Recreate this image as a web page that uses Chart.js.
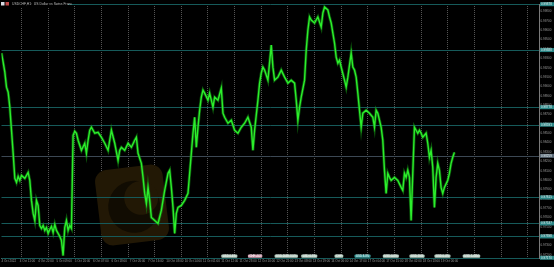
<!DOCTYPE html>
<html>
<head>
<meta charset="utf-8">
<script src="https://cdn.jsdelivr.net/npm/chart.js@4/dist/chart.umd.min.js"></script>
<style>
  html, body { margin: 0; padding: 0; background: #000; }
  #wrap { width: 554px; height: 267px; }
</style>
</head>
<body>
<div id="wrap"><canvas id="priceChart" width="554" height="267"></canvas></div>
<script>
const chartTitle = 'USDCHF,H1:  US Dollar vs Swiss Franc';

// bar index (hours on the chart) and close price
const bars = [
  0, 1, 2, 3, 4, 5, 6, 7, 8, 9, 10, 11, 12, 14, 16, 17, 18, 19, 20, 21,
  22, 23, 24, 25, 26, 27, 28, 29, 30, 31, 32, 33, 34, 35, 36, 37, 38, 39, 40, 41,
  42, 43, 44, 45, 46, 48, 50, 51, 52, 53, 54, 56, 58, 60, 62, 64, 66, 68, 70, 71,
  72, 74, 76, 78, 80, 81, 82, 84, 85, 86, 87, 88, 89, 90, 92, 94, 96, 98, 100, 101,
  102, 103, 104, 105, 106, 108, 110, 112, 113, 114, 115, 116, 117, 118, 119, 120, 121, 122, 124, 125,
  126, 127, 128, 130, 132, 133, 134, 136, 138, 140, 142, 144, 146, 148, 150, 151, 152, 154, 155, 156,
  157, 158, 160, 162, 163, 164, 166, 168, 170, 172, 174, 176, 177, 178, 179, 180, 182, 183, 184, 185,
  186, 188, 190, 192, 193, 194, 196, 197, 198, 200, 201, 202, 203, 204, 206, 207, 208, 210, 211, 212,
  213, 214, 215, 216, 217, 219, 221, 223, 224, 225, 226, 227, 228, 229, 230, 231, 232, 233, 234, 236,
  238, 240, 241, 242, 243, 244, 245, 246, 247, 248, 249, 250, 251, 252, 253, 255, 256, 257, 258, 259,
  260, 261, 262, 263, 264, 265, 266, 268, 269, 270, 271, 272
];
const closes = [
  0.99356, 0.99259, 0.99152, 0.98992, 0.98938, 0.98778, 0.98532, 0.98286, 0.98018, 0.97975,
  0.98040, 0.97997, 0.98050, 0.98018, 0.98082, 0.97997, 0.97783, 0.97644, 0.97569, 0.97783,
  0.97729, 0.97515, 0.97483, 0.97515, 0.97462, 0.97494, 0.97430, 0.97473, 0.97505, 0.97440,
  0.97526, 0.97462, 0.97430, 0.97398, 0.97355, 0.97194, 0.97494, 0.97569, 0.97462, 0.97515,
  0.97483, 0.98478, 0.98521, 0.98500, 0.98425, 0.98318, 0.98393, 0.98286, 0.98425, 0.98532,
  0.98564, 0.98500, 0.98510, 0.98457, 0.98393, 0.98318, 0.98532, 0.98393, 0.98211, 0.98318,
  0.98350, 0.98318, 0.98393, 0.98350, 0.98425, 0.98457, 0.98286, 0.98179, 0.98029, 0.97858,
  0.97751, 0.97922, 0.97783, 0.97601, 0.97569, 0.97537, 0.97676, 0.97890, 0.98072, 0.98104,
  0.97922, 0.97708, 0.97430, 0.97644, 0.97708, 0.97729, 0.97783, 0.97858, 0.98072, 0.98286,
  0.98500, 0.98671, 0.98350, 0.98564, 0.98746, 0.98885, 0.98960, 0.98928, 0.98853, 0.98928,
  0.98853, 0.98778, 0.98885, 0.98853, 0.98981, 0.98714, 0.98671, 0.98607, 0.98639, 0.98532,
  0.98500, 0.98564, 0.98607, 0.98671, 0.98564, 0.98318, 0.98532, 0.98853, 0.99035, 0.99142,
  0.99206, 0.99174, 0.99067, 0.99441, 0.99206, 0.99067, 0.99099, 0.99174, 0.99099, 0.99035,
  0.99067, 0.99035, 0.98853, 0.98639, 0.98778, 0.98885, 0.99067, 0.99388, 0.99602, 0.99741,
  0.99709, 0.99677, 0.99741, 0.99634, 0.99784, 0.99848, 0.99816, 0.99741, 0.99677, 0.99463,
  0.99313, 0.99249, 0.99281, 0.99206, 0.99067, 0.98992, 0.99099, 0.99356, 0.99206, 0.99174,
  0.99099, 0.98928, 0.98746, 0.98564, 0.98714, 0.98746, 0.98714, 0.98671, 0.98564, 0.98746,
  0.98714, 0.98639, 0.98564, 0.98425, 0.98104, 0.97858, 0.98072, 0.98029, 0.97997, 0.98029,
  0.97997, 0.97922, 0.97890, 0.98072, 0.98029, 0.98104, 0.98029, 0.97569, 0.98072, 0.98564,
  0.98532, 0.98500, 0.98532, 0.98500, 0.98457, 0.98500, 0.98393, 0.98243, 0.98318, 0.98136,
  0.97708, 0.98029, 0.98179, 0.98104, 0.97922, 0.97858, 0.97922, 0.97997, 0.98072, 0.98179,
  0.98243, 0.98296
];

// time axis labels
const labelBars = [0, 11, 22, 33, 44, 55, 66, 77, 88, 99, 110, 121, 132, 143, 154, 165, 176, 187, 198, 209, 220, 231, 242, 253, 264];
const timeLabels = [
  '4 Oct 2022', '4 Oct 11:00', '4 Oct 22:00', '5 Oct 09:00', '5 Oct 20:00', '6 Oct 07:00',
  '6 Oct 18:00', '7 Oct 05:00', '7 Oct 16:00', '10 Oct 03:00', '10 Oct 14:00', '11 Oct 01:00',
  '11 Oct 12:00', '11 Oct 23:00', '12 Oct 10:00', '12 Oct 21:00', '13 Oct 08:00', '13 Oct 19:00',
  '14 Oct 06:00', '14 Oct 17:00', '17 Oct 04:00', '17 Oct 15:00', '18 Oct 02:00', '18 Oct 13:00',
  '19 Oct 00:00'
];
const gridBars = [12, 28, 44, 60, 76, 92, 108, 124, 140, 156, 172, 188, 204, 220, 236, 252, 268, 284, 300, 316];

// horizontal price levels
const levels = [0.99878, 0.99388, 0.98778, 0.98591, 0.98259, 0.97815, 0.97537, 0.97398, 0.97170];
const levelKinds = ['teal', 'teal', 'teal', 'teal', 'gray', 'teal', 'teal', 'teal', 'teal'];

// calendar event tags along the time axis
const eventBars = [132, 148, 164, 180, 200, 212, 229, 245, 260, 277];
const eventTexts = ['USD 0.4%', 'CHF -0.2', 'USD 263K 3.5%', 'USD 0.7%', 'CHF', 'USD 8.3%', 'USD 0.0%', 'USD 59.8', 'USD 0.4%', 'USD 1.43M'];
const eventKinds = ['light', 'pink', 'light', 'light', 'light', 'teal', 'light', 'light', 'light', 'light'];

const priceMin = 0.97168;
const priceMax = 0.99880;
const barMax = 322.8;

const colors = {
  line: '#2cee2c',
  lineGlow: 'rgba(20, 150, 20, 0.55)',
  axisText: '#9c9c9c',
  grid: '#555555',
  levelTeal: '#165a5a',
  levelGray: '#3c4854',
  tagTeal: '#2a8585',
  tagGray: '#5c6a78',
  eventLight: '#b7cfc2',
  eventPink: '#d6a7b8',
  eventTeal: '#3f9f9f'
};

const watermark = {
  id: 'watermark',
  beforeDatasetsDraw(chart) {
    const ctx = chart.ctx;
    ctx.save();
    ctx.translate(132, 205);
    ctx.rotate(-0.12);
    ctx.fillStyle = '#221805';
    ctx.beginPath();
    ctx.roundRect(-34, -38, 68, 76, 12);
    ctx.fill();
    ctx.fillStyle = '#110c02';
    ctx.beginPath();
    ctx.arc(2, 2, 26, 0, Math.PI * 2);
    ctx.fill();
    ctx.fillStyle = '#221805';
    ctx.beginPath();
    ctx.arc(10, -6, 17, 0, Math.PI * 2);
    ctx.fill();
    ctx.restore();
  }
};

const levelLines = {
  id: 'levelLines',
  beforeDatasetsDraw(chart) {
    const { ctx, chartArea, scales } = chart;
    ctx.save();
    ctx.lineWidth = 1;
    levels.forEach((p, i) => {
      const y = Math.round(scales.y.getPixelForValue(p)) + 0.5;
      ctx.strokeStyle = levelKinds[i] === 'gray' ? colors.levelGray : colors.levelTeal;
      ctx.beginPath();
      ctx.moveTo(chartArea.left, y);
      ctx.lineTo(chartArea.right, y);
      ctx.stroke();
    });
    ctx.restore();
  },
  afterDraw(chart) {
    const { ctx, chartArea, scales } = chart;
    ctx.save();
    ctx.font = '3px "Liberation Sans"';
    ctx.textBaseline = 'middle';
    levels.forEach((p, i) => {
      const y = scales.y.getPixelForValue(p);
      ctx.fillStyle = levelKinds[i] === 'gray' ? colors.tagGray : colors.tagTeal;
      ctx.fillRect(chartArea.right + 1, y - 2, 14, 4);
      ctx.fillStyle = '#e4f2f2';
      ctx.fillText(p.toFixed(5), chartArea.right + 2, y);
    });

    // event tags
    ctx.font = '2.8px "Liberation Sans"';
    eventBars.forEach((b, i) => {
      const x = scales.x.getPixelForValue(b);
      const w = ctx.measureText(eventTexts[i]).width + 3;
      const kind = eventKinds[i];
      ctx.fillStyle = kind === 'pink' ? colors.eventPink : kind === 'teal' ? colors.eventTeal : colors.eventLight;
      ctx.beginPath();
      ctx.roundRect(x, chartArea.bottom - 3.5, w, 3.2, 1);
      ctx.fill();
      ctx.fillStyle = '#f4f4f4';
      ctx.fillText(eventTexts[i], x + 1.5, chartArea.bottom - 1.9);
    });

    // window title
    ctx.fillStyle = '#000';
    ctx.fillRect(0, 0, 68, 7.5);
    ctx.fillStyle = '#d8dce4';
    ctx.fillRect(1, 2, 3.5, 3.5);
    ctx.fillStyle = '#c04848';
    ctx.fillRect(5.5, 2, 3.5, 3.5);
    ctx.fillStyle = '#bdbdbd';
    ctx.font = '3.4px "Liberation Sans"';
    ctx.fillText(chartTitle, 12, 4.2);
    ctx.restore();
  }
};

const background = {
  id: 'background',
  beforeDraw(chart) {
    const ctx = chart.ctx;
    ctx.save();
    ctx.fillStyle = '#000';
    ctx.fillRect(0, 0, chart.width, chart.height);
    ctx.restore();
  }
};

const pricePoints = bars.map((b, i) => ({ x: b, y: closes[i] }));

const ctx = document.getElementById('priceChart').getContext('2d');
new Chart(ctx, {
  type: 'line',
  data: {
    datasets: [{
      data: pricePoints,
      borderColor: colors.line,
      borderWidth: 1.4,
      pointRadius: 0,
      tension: 0,
      order: 0
    }, {
      data: pricePoints,
      borderColor: colors.lineGlow,
      borderWidth: 3,
      pointRadius: 0,
      tension: 0,
      order: 1
    }]
  },
  options: {
    responsive: false,
    animation: false,
    layout: { padding: { top: 4, left: 0, right: 0, bottom: 0 } },
    plugins: { legend: { display: false }, tooltip: { enabled: false } },
    scales: {
      x: {
        type: 'linear',
        min: 0,
        max: barMax,
        afterBuildTicks: s => { s.ticks = labelBars.map(v => ({ value: v })); },
        afterFit: s => { s.height = 9; },
        ticks: {
          callback: (v, i) => timeLabels[i],
          color: colors.axisText,
          font: { size: 3, family: 'Liberation Sans' },
          align: 'start',
          autoSkip: false,
          maxRotation: 0,
          padding: 1.5
        },
        grid: { display: false, drawTicks: false },
        border: { color: '#6e6e6e' }
      },
      xg: {
        type: 'linear',
        position: 'bottom',
        min: 0,
        max: barMax,
        afterBuildTicks: s => { s.ticks = gridBars.map(v => ({ value: v })); },
        afterFit: s => { s.height = 0; },
        ticks: { display: false },
        grid: { color: colors.grid, drawTicks: false, lineWidth: 1 },
        border: { display: false, dash: [1, 1] }
      },
      y: {
        position: 'right',
        min: priceMin,
        max: priceMax,
        afterFit: s => { s.width = 15; },
        ticks: {
          stepSize: 0.001,
          includeBounds: false,
          callback: v => v.toFixed(5),
          color: colors.axisText,
          font: { size: 3, family: 'Liberation Sans' },
          padding: 1.5
        },
        grid: { display: false, drawTicks: false },
        border: { color: '#7a7a7a' }
      }
    }
  },
  plugins: [background, watermark, levelLines]
});
</script>
</body>
</html>
